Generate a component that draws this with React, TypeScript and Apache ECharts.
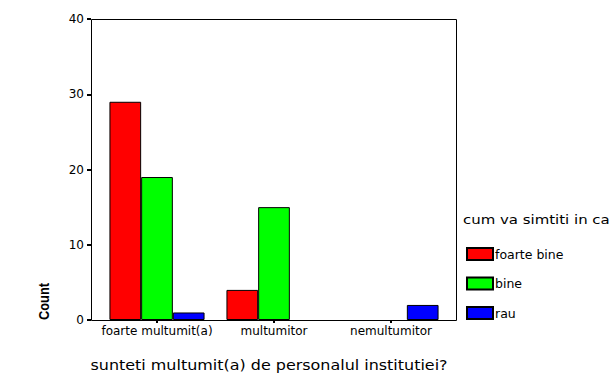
import React, { useEffect, useRef } from "react";
import * as echarts from "echarts";

const categories = ["foarte multumit(a)", "multumitor", "nemultumitor"];
const seriesNames = ["foarte bine", "bine", "rau"];
const foarteBine = [29, 4, 0];
const bine = [19, 15, 0];
const rau = [1, 0, 2];
const colors = ["#ff0000", "#00ff00", "#0000ff"];
const yTicks = { min: 0, max: 40, interval: 10 };
const xTitle = "sunteti multumit(a) de personalul institutiei?";
const legendTitle = "cum va simtiti in ca";
const yTitle = "Count";

const FONT = "'DejaVu Sans', 'Liberation Sans', Arial, sans-serif";

export default function App() {
  const ref = useRef<HTMLDivElement>(null);
  useEffect(() => {
    if (!ref.current) return;
    const chart = echarts.init(ref.current, null, { renderer: "svg" });
    const values = [foarteBine, bine, rau];
    chart.setOption({
      animation: false,
      backgroundColor: "#ffffff",
      textStyle: { fontFamily: FONT },
      legend: {
        orient: "vertical",
        left: 461,
        top: 242,
        itemWidth: 26,
        itemHeight: 12,
        itemGap: 15.5,
        icon: "rect",
        data: seriesNames,
        textStyle: { fontSize: 12.5, lineHeight: 14, color: "#000", fontFamily: FONT, padding: [0, 0, 0, -3] },
      },
      grid: { left: 98.5, top: 19, width: 351, height: 301, containLabel: false },
      xAxis: {
        type: "category",
        data: categories,
        axisLine: { show: false },
        axisTick: { show: true, alignWithLabel: true, length: 3, lineStyle: { color: "#000", width: 2 } },
        axisLabel: { color: "#000", fontSize: 12, margin: 5, interval: 0, fontFamily: FONT },
      },
      yAxis: {
        type: "value",
        min: yTicks.min,
        max: yTicks.max,
        interval: yTicks.interval,
        offset: 7.5,
        axisLine: { show: false },
        axisTick: { show: true, length: 4, lineStyle: { color: "#000", width: 2 } },
        axisLabel: { color: "#000", fontSize: 12, margin: 7, fontFamily: FONT },
        splitLine: { show: false },
      },
      graphic: [
        {
          type: "rect",
          shape: { x: 91.5, y: 19.5, width: 365, height: 301 },
          style: { fill: "none", stroke: "#000", lineWidth: 1 },
          z: 10,
        },
        {
          type: "text",
          x: 44,
          y: 301.5,
          rotation: Math.PI / 2,
          scaleX: 0.86,
          style: {
            text: yTitle,
            fontSize: 15,
            fontWeight: "bold",
            fontFamily: "'Liberation Sans', Arial, sans-serif",
            fill: "#000",
            align: "center",
            verticalAlign: "middle",
          },
        },
        {
          type: "text",
          x: 269,
          y: 365,
          scaleX: 1.14,
          style: {
            text: xTitle,
            fontSize: 14,
            fontFamily: FONT,
            fill: "#000",
            align: "center",
            verticalAlign: "middle",
          },
        },
        {
          type: "text",
          x: 463,
          y: 219,
          scaleX: 1.15,
          style: {
            text: legendTitle,
            fontSize: 13,
            fontFamily: FONT,
            fill: "#000",
            align: "left",
            verticalAlign: "middle",
          },
        },
      ],
      series: seriesNames.map((name, i) => ({
        name,
        type: "bar",
        data: values[i].map((v) => (v === 0 ? null : v)),
        barWidth: 31.7,
        barGap: "0%",
        itemStyle: { color: colors[i], borderColor: "#000", borderWidth: 1 },
      })),
    });
    return () => chart.dispose();
  }, []);
  return <div ref={ref} style={{ width: 612, height: 383, position: "absolute", left: 0, top: 0 }} />;
}
